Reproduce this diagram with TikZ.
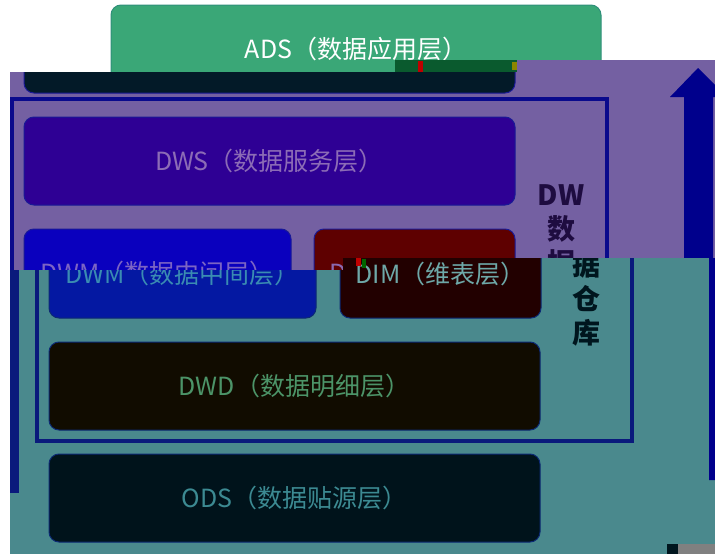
\documentclass[tikz,border=0pt]{standalone}
\usepackage{fontspec}
\setmainfont{Noto Sans CJK SC}
\usepackage{tikz}
\usetikzlibrary{positioning}
\def\dx{23pt}
\def\bh{88pt}
\definecolor{adsgreen}{HTML}{3AA777}
\definecolor{adsline}{HTML}{2F8F7A}
\definecolor{purplebg}{HTML}{7460A2}
\definecolor{tealbg}{HTML}{4A898D}
\definecolor{navy}{HTML}{0A0A8C}
\definecolor{navyb}{HTML}{0A1A7C}
\definecolor{arrownavy}{HTML}{00008C}
\definecolor{boxline}{HTML}{1A1A96}
\definecolor{boxlineb}{HTML}{0C2A74}
\definecolor{appfill}{HTML}{031A28}
\definecolor{dwsfill}{HTML}{2E0094}
\definecolor{dwstext}{HTML}{8C6CB6}
\definecolor{dwmfill}{HTML}{0A00BE}
\definecolor{dwmtext}{HTML}{7C64C4}
\definecolor{dimfill}{HTML}{5E0000}
\definecolor{dimtext}{HTML}{8A6AB0}
\definecolor{dwmfillb}{HTML}{0418A2}
\definecolor{dwmtextb}{HTML}{3A8CB2}
\definecolor{dimfillb}{HTML}{220000}
\definecolor{dimtextb}{HTML}{6EA8A8}
\definecolor{dwdfill}{HTML}{110C00}
\definecolor{dwdtext}{HTML}{4C9468}
\definecolor{odsfill}{HTML}{00131B}
\definecolor{odstext}{HTML}{3C8A92}
\definecolor{tagpurple}{HTML}{1E0C40}
\definecolor{tagteal}{HTML}{00161E}
\definecolor{glitch}{HTML}{0A5A2E}
\tikzstyle{layer}=[draw,line width=1pt,rounded corners=10pt,minimum height=\bh,inner sep=0pt,font=\fontsize{25}{29}\selectfont]
\tikzstyle{wide}=[minimum width=491pt]
\tikzstyle{half}=[minimum width=267pt]
\tikzstyle{small}=[minimum width=201pt]
\tikzstyle{frame}=[line width=4pt]
\tikzstyle{tag}=[font=\fontsize{28}{34}\selectfont\bfseries,align=center,inner sep=0pt]
\newcommand{\newLayer}[4]{\node[layer,#3](#1)[#4]{#2};}
\newcommand{\bigArrow}[1]{\fill[#1] (684,478) -- (684,97) -- (670,97) -- (698,68) -- (727,97) -- (713,97) -- (713,478) -- cycle;}

\begin{document}
\begin{tikzpicture}[x=1pt,y=-1pt,node distance=\dx and \dx]
  \useasboundingbox (0,0) rectangle (715,554);
  \newLayer{ads}{ADS（数据应用层）}{minimum width=490pt,fill=adsgreen,draw=adsline,text=white}{at={(356,49)}}
  % upper band
  \begin{scope}
    \clip (10,72) -- (395,72) -- (395,60) -- (715,60) -- (715,258) -- (343,258) -- (343,270) -- (10,270) -- cycle;
    \fill[purplebg] (0,0) rectangle (715,554);
    \newLayer{dws}{DWS（数据服务层）}{wide,fill=dwsfill,draw=boxline,text=dwstext}{at={(269.5,161)}}
    \newLayer{app}{}{wide,fill=appfill,draw=boxline}{above=of dws}
    \newLayer{dwm}{DWM（数据中间层）}{half,fill=dwmfill,draw=boxline,text=dwmtext}{below=of dws.south west,anchor=north west}
    \newLayer{dim}{DIM（维表层）}{small,fill=dimfill,draw=boxline,text=dimtext}{below=of dws.south east,anchor=north east}
    \draw[frame,navy] (12,99) rectangle (607,439);
    \node[tag,text=tagpurple] (dw) at (561,264) {DW\\数\\据\\仓\\库};
    \bigArrow{arrownavy}
  \end{scope}
  % lower band
  \begin{scope}
    \clip (10,270) -- (343,270) -- (343,258) -- (715,258) -- (715,554) -- (10,554) -- cycle;
    \fill[tealbg] (0,0) rectangle (715,554);
    \fill[navyb] (10,250) rectangle (19,493);
    \begin{scope}[shift={(25,2)}]
      \newLayer{dwm2}{DWM（数据中间层）}{half,fill=dwmfillb,draw=boxlineb,text=dwmtextb}{at={(157.5,272)}}
      \newLayer{dim2}{DIM（维表层）}{small,fill=dimfillb,draw=boxlineb,text=dimtextb}{right=of dwm2}
      \newLayer{dwd}{DWD（数据明细层）}{wide,fill=dwdfill,draw=boxlineb,text=dwdtext}{below=of dwm2.south west,anchor=north west}
      \newLayer{ods}{ODS（数据贴源层）}{wide,fill=odsfill,draw=boxlineb,text=odstext}{below=of dwd}
      \draw[frame,navyb] (12,99) rectangle (607,439);
      \node[tag,text=tagteal] (dw2) at (561,264) {DW\\数\\据\\仓\\库};
      \bigArrow{arrownavy}
    \end{scope}
  \end{scope}
  % broken rows
  \fill[glitch] (395,60) rectangle (517,72);
  \fill[red!75!black] (418,61) rectangle (423,72);
  \fill[olive] (512,62) rectangle (517,70);
  \fill[red!75!black] (356,258) rectangle (361,266);
  \fill[green!40!black] (362,259) rectangle (366,268);
  \fill[tagteal] (667,544) rectangle (678,554);
  \fill[gray] (678,544) rectangle (715,554);
\end{tikzpicture}
\end{document}
